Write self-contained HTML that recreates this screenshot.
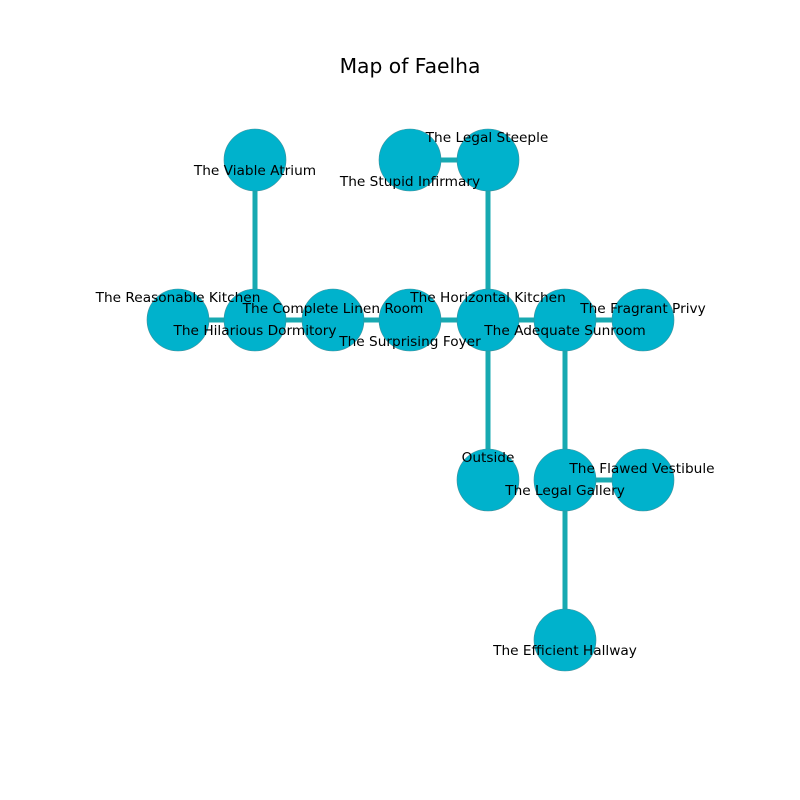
<!DOCTYPE html>
<html><head><meta charset="utf-8"><style>
html,body{margin:0;padding:0;background:#fff;width:800px;height:800px;overflow:hidden}
text{font-family:"DejaVu Sans",sans-serif;font-size:13.7px;fill:#000;text-anchor:middle}
</style></head><body>
<svg width="800" height="800" xmlns="http://www.w3.org/2000/svg">
<text x="410" y="73" style="font-size:20.3px">Map of Faelha</text>
<g stroke="#17a9b1" stroke-width="5">
<line x1="255" y1="160" x2="255" y2="320"/>
<line x1="410" y1="160" x2="488" y2="160"/>
<line x1="488" y1="160" x2="488" y2="480"/>
<line x1="178" y1="320" x2="643" y2="320"/>
<line x1="565" y1="320" x2="565" y2="640"/>
<line x1="565" y1="480" x2="643" y2="480"/>
</g>
<g fill="#00b2cc" stroke="#3a8f9a" stroke-width="0.6">
<circle cx="255" cy="160" r="31"/>
<circle cx="410" cy="160" r="31"/>
<circle cx="488" cy="160" r="31"/>
<circle cx="178" cy="320" r="31"/>
<circle cx="255" cy="320" r="31"/>
<circle cx="333" cy="320" r="31"/>
<circle cx="410" cy="320" r="31"/>
<circle cx="488" cy="320" r="31"/>
<circle cx="565" cy="320" r="31"/>
<circle cx="643" cy="320" r="31"/>
<circle cx="488" cy="480" r="31"/>
<circle cx="565" cy="480" r="31"/>
<circle cx="643" cy="480" r="31"/>
<circle cx="565" cy="640" r="31"/>
</g>
<text x="255" y="175">The Viable Atrium</text>
<text x="487" y="142">The Legal Steeple</text>
<text x="410" y="186">The Stupid Infirmary</text>
<text x="178" y="302">The Reasonable Kitchen</text>
<text x="333" y="313">The Complete Linen Room</text>
<text x="255" y="335">The Hilarious Dormitory</text>
<text x="488" y="302">The Horizontal Kitchen</text>
<text x="410" y="346">The Surprising Foyer</text>
<text x="565" y="335">The Adequate Sunroom</text>
<text x="643" y="313">The Fragrant Privy</text>
<text x="488" y="462">Outside</text>
<text x="642" y="473">The Flawed Vestibule</text>
<text x="565" y="495">The Legal Gallery</text>
<text x="565" y="655">The Efficient Hallway</text>
</svg>
</body></html>
